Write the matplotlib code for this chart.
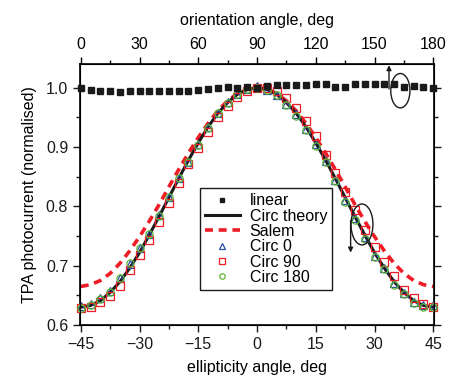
import matplotlib
matplotlib.use("Agg")
import matplotlib.pyplot as plt
from matplotlib.patches import Ellipse

plt.rcParams["font.family"] = ["Liberation Sans", "DejaVu Sans"]

# orientation angle (top axis) for the linear polarisation scan
orient = [0, 5, 10, 15, 20, 25, 30, 35, 40, 45, 50, 55, 60, 65, 70, 75, 80, 85, 90,
          95, 100, 105, 110, 115, 120, 125, 130, 135, 140, 145, 150, 155, 160, 165,
          170, 175, 180]
linear = [0.999, 0.996, 0.995, 0.994, 0.993, 0.995, 0.994, 0.994, 0.994, 0.995,
          0.994, 0.995, 0.997, 0.998, 0.999, 1.001, 1.000, 1.001, 1.000, 1.003,
          1.004, 1.004, 1.005, 1.005, 1.006, 1.006, 1.002, 1.002, 1.006, 1.006,
          1.006, 1.006, 1.006, 1.002, 1.003, 1.002, 0.999]

# ellipticity angle (bottom axis)
ellip = [-45, -42.5, -40, -37.5, -35, -32.5, -30, -27.5, -25, -22.5, -20, -17.5,
         -15, -12.5, -10, -7.5, -5, -2.5, 0, 2.5, 5, 7.5, 10, 12.5, 15, 17.5, 20,
         22.5, 25, 27.5, 30, 32.5, 35, 37.5, 40, 42.5, 45]

circ_theory = [0.630, 0.633, 0.641, 0.655, 0.673, 0.696, 0.722, 0.752, 0.783, 0.815,
               0.847, 0.878, 0.907, 0.934, 0.957, 0.975, 0.989, 0.997, 1.000, 0.997,
               0.989, 0.975, 0.957, 0.934, 0.907, 0.878, 0.847, 0.815, 0.783, 0.752,
               0.722, 0.696, 0.673, 0.655, 0.641, 0.633, 0.630]
salem = [0.665, 0.668, 0.675, 0.687, 0.704, 0.725, 0.749, 0.775, 0.803, 0.833,
         0.862, 0.890, 0.916, 0.940, 0.961, 0.978, 0.990, 0.998, 1.000, 0.998,
         0.990, 0.978, 0.961, 0.940, 0.916, 0.890, 0.862, 0.833, 0.803, 0.775,
         0.749, 0.725, 0.704, 0.687, 0.675, 0.668, 0.665]
circ0 = [0.632, 0.636, 0.645, 0.657, 0.679, 0.703, 0.729, 0.754, 0.785, 0.815,
         0.848, 0.874, 0.905, 0.933, 0.958, 0.976, 0.990, 0.998, 1.003, 0.997,
         0.988, 0.972, 0.955, 0.930, 0.905, 0.877, 0.845, 0.811, 0.780, 0.748,
         0.717, 0.696, 0.670, 0.654, 0.639, 0.633, 0.634]
circ90 = [0.628, 0.631, 0.638, 0.649, 0.666, 0.692, 0.718, 0.744, 0.774, 0.806,
          0.839, 0.871, 0.899, 0.926, 0.950, 0.970, 0.985, 0.995, 0.999, 1.000,
          0.994, 0.982, 0.966, 0.944, 0.918, 0.887, 0.856, 0.825, 0.794, 0.760,
          0.732, 0.707, 0.682, 0.659, 0.645, 0.635, 0.631]
circ180 = [0.629, 0.634, 0.644, 0.656, 0.679, 0.704, 0.730, 0.753, 0.784, 0.815,
           0.847, 0.874, 0.904, 0.932, 0.957, 0.975, 0.990, 0.998, 1.000, 0.996,
           0.987, 0.971, 0.953, 0.928, 0.902, 0.874, 0.842, 0.808, 0.777, 0.745,
           0.714, 0.694, 0.668, 0.652, 0.637, 0.631, 0.630]

fs = 11.5
fig = plt.figure(figsize=(4.51, 3.78), dpi=100)
ax = fig.add_axes([0.1774, 0.1402, 0.785, 0.6905])
ax.set_xlim(-45.2, 45.2)
ax.set_ylim(0.6, 1.04)

l_theory, = ax.plot(ellip, circ_theory, color="#1a1a1a", lw=2.2, zorder=3)
l_salem, = ax.plot(ellip, salem, color="#ee1c25", lw=2.6, ls=(0, (2.2, 1.6)),
                   zorder=2)
l_c0, = ax.plot(ellip, circ0, ls="none", marker="^", ms=5.5, mfc="none",
                mec="#2b4ea8", mew=0.9, clip_on=False, zorder=4)
l_c90, = ax.plot(ellip, circ90, ls="none", marker="s", ms=5.8, mfc="none",
                 mec="#ee1c25", mew=0.9, clip_on=False, zorder=4)
l_c180, = ax.plot(ellip, circ180, ls="none", marker="o", ms=5.2, mfc="none",
                  mec="#5cb532", mew=0.9, clip_on=False, zorder=4)

ax.set_xticks([-45, -30, -15, 0, 15, 30, 45])
ax.set_xticklabels(["\u221245", "\u221230", "\u221215", "0", "15", "30", "45"])
ax.set_xticks([-37.5, -22.5, -7.5, 7.5, 22.5, 37.5], minor=True)
ax.set_yticks([0.6, 0.7, 0.8, 0.9, 1.0])
ax.set_yticks([0.65, 0.75, 0.85, 0.95], minor=True)
ax.tick_params(which="both", direction="out", labelsize=fs, width=1,
               right=True, colors="#1a1a1a")
ax.tick_params(which="major", length=5)
ax.tick_params(which="minor", length=3)
ax.set_xlabel("ellipticity angle, deg", fontsize=fs, labelpad=6)
ax.set_ylabel("TPA photocurrent (normalised)", fontsize=fs, labelpad=6)
for s in ax.spines.values():
    s.set_linewidth(1.2)

# top axis: orientation angle
ax2 = ax.twiny()
ax2.set_xlim(-0.4, 180.4)
l_lin, = ax2.plot(orient, linear, ls="none", marker="s", ms=4.6,
                  color="#1a1a1a", clip_on=False, zorder=5)
ax2.set_xticks([0, 30, 60, 90, 120, 150, 180])
ax2.set_xticks([15, 45, 75, 105, 135, 165], minor=True)
ax2.tick_params(which="both", direction="out", labelsize=fs, width=1)
ax2.tick_params(which="major", length=5)
ax2.tick_params(which="minor", length=3)
ax2.set_xlabel("orientation angle, deg", fontsize=fs, labelpad=9)

# ellipses with arrows pointing to the relevant axis
ax.add_patch(Ellipse((36.6, 0.995), 4.9, 0.058, fill=False, lw=1, color="#1a1a1a",
                     zorder=6))
ax.annotate("", xy=(33.7, 1.038), xytext=(33.7, 0.998),
            arrowprops=dict(arrowstyle="-|>", lw=1, color="#1a1a1a",
                            mutation_scale=7, shrinkA=0, shrinkB=0))
ax.add_patch(Ellipse((26.8, 0.7695), 5.6, 0.069, fill=False, lw=1, color="#1a1a1a",
                     zorder=6))
ax.annotate("", xy=(23.9, 0.722), xytext=(23.9, 0.776),
            arrowprops=dict(arrowstyle="-|>", lw=1, color="#1a1a1a",
                            mutation_scale=7, shrinkA=0, shrinkB=0))

leg = ax.legend([l_lin, l_theory, l_salem, l_c0, l_c90, l_c180],
                ["linear", "Circ theory", "Salem", "Circ 0", "Circ 90", "Circ 180"],
                loc="upper left", bbox_to_anchor=(0.339, 0.523),
                fontsize=fs, labelspacing=0.02, handlelength=2.2,
                handletextpad=0.6, borderpad=0.3, borderaxespad=0,
                markerscale=0.75, fancybox=False, framealpha=1,
                edgecolor="#1a1a1a")
leg.get_frame().set_linewidth(1)
leg.set_zorder(10)

fig.savefig("out.png", dpi=100)
